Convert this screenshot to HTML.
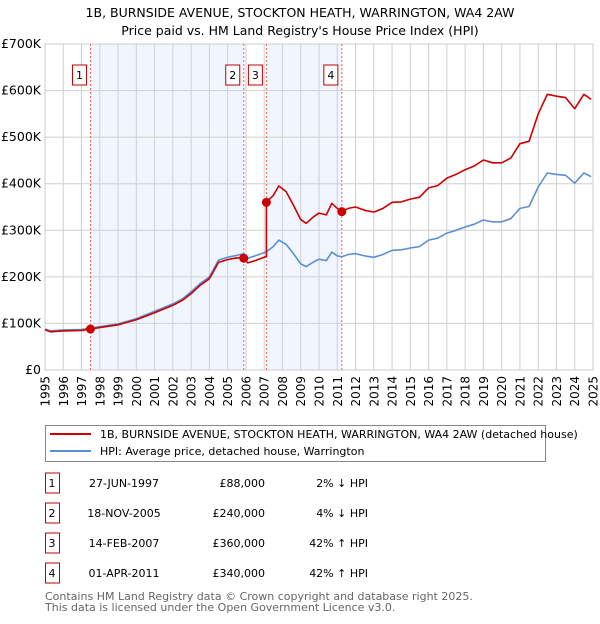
<!DOCTYPE html>
<html><head><meta charset="utf-8"><style>
body{margin:0;background:#fff;font-family:"DejaVu Sans","Liberation Sans",sans-serif;}
svg text{font-family:"DejaVu Sans","Liberation Sans",sans-serif;}
</style></head><body>
<svg id="chart" width="600" height="620" xmlns="http://www.w3.org/2000/svg">
<text x="300" y="17" text-anchor="middle" font-size="12.5" fill="#000">1B, BURNSIDE AVENUE, STOCKTON HEATH, WARRINGTON, WA4 2AW</text>
<text x="300" y="35" text-anchor="middle" font-size="12.5" fill="#000">Price paid vs. HM Land Registry's House Price Index (HPI)</text>
<g id="plot"></g>
<g>
<rect x="45.5" y="425.5" width="500" height="36" fill="#fff" stroke="#888"/>
<line x1="50" y1="434" x2="91" y2="434" stroke="#cc0000" stroke-width="2"/>
<text x="100" y="438" font-size="11">1B, BURNSIDE AVENUE, STOCKTON HEATH, WARRINGTON, WA4 2AW (detached house)</text>
<line x1="50" y1="451" x2="91" y2="451" stroke="#5b8fd4" stroke-width="2"/>
<text x="100" y="455" font-size="11">HPI: Average price, detached house, Warrington</text>
</g>
<g id="table"></g>
<text x="45" y="600" font-size="11" fill="#666">Contains HM Land Registry data © Crown copyright and database right 2025.</text>
<text x="45" y="611" font-size="11" fill="#666">This data is licensed under the Open Government Licence v3.0.</text>
</svg>
<script>
const dates=[1995.0,1995.3,1996,1997,1997.49,1998,1999,2000,2001,2002,2002.5,2003,2003.5,2004,2004.5,2005,2005.5,2005.88,2006.1,2006.5,2007.0,2007.12,2007.5,2007.8,2008.2,2008.6,2009.0,2009.3,2009.7,2010.0,2010.4,2010.7,2011.0,2011.25,2011.6,2012,2012.5,2013,2013.5,2014,2014.5,2015,2015.5,2016,2016.5,2017,2017.5,2018,2018.5,2019,2019.5,2020,2020.5,2021,2021.5,2022,2022.5,2023,2023.5,2024,2024.5,2024.9];
const hpiValues=[88,84,86,87,90,93,99,110,126,142,152,168,186,200,236,242,246,250,240,245,252,254,265,279,270,250,228,222,232,238,235,253,245,243,248,250,245,242,248,257,258,262,265,279,283,294,300,307,313,322,318,318,325,347,351,393,423,420,418,401,423,415];
const priceDates=[1995.0,1995.3,1996,1997,1997.49,1998,1999,2000,2001,2002,2002.5,2003,2003.5,2004,2004.5,2005,2005.5,2005.88,2006.1,2006.5,2007.0,2007.12,2007.12,2007.5,2007.8,2008.2,2008.6,2009.0,2009.3,2009.7,2010.0,2010.4,2010.7,2011.0,2011.25,2011.6,2012,2012.5,2013,2013.5,2014,2014.5,2015,2015.5,2016,2016.5,2017,2017.5,2018,2018.5,2019,2019.5,2020,2020.5,2021,2021.5,2022,2022.5,2023,2023.5,2024,2024.5,2024.9];
const priceValues=[86,82,84,85,88,91,97,108,123,139,149,164,182,196,231,237,241,240,230,235,242,244,360,375,395,383,354,323,315,329,337,333,358,347,340,347,350,343,339,347,360,361,367,371,391,396,412,420,430,438,451,445,445,455,486,491,550,592,588,585,561,592,581];
const saleDates=[1997.49,2005.88,2007.12,2011.25];
const salePrices=[88,240,360,340];
const saleLabels=["1","2","3","4"];
const saleDateText=["27-JUN-1997","18-NOV-2005","14-FEB-2007","01-APR-2011"];
const salePriceText=["£88,000","£240,000","£360,000","£340,000"];
const saleHpiText=["2% ↓ HPI","4% ↓ HPI","42% ↑ HPI","42% ↑ HPI"];
const yTicks=[0,100,200,300,400,500,600,700];
const yTickLabels=["£0","£100K","£200K","£300K","£400K","£500K","£600K","£700K"];
const xTicks=[1995,1996,1997,1998,1999,2000,2001,2002,2003,2004,2005,2006,2007,2008,2009,2010,2011,2012,2013,2014,2015,2016,2017,2018,2019,2020,2021,2022,2023,2024,2025];

const NS="http://www.w3.org/2000/svg";
const L=45,R=593,T=44,B=370;
const xs=d=>L+(d-1995)/(2025-1995)*(R-L);
const ys=v=>B-v/700*(B-T);
const plot=document.getElementById('plot');
function mk(tag,attrs,parent){const e=document.createElementNS(NS,tag);for(const k in attrs)e.setAttribute(k,attrs[k]);(parent||plot).appendChild(e);return e;}

for(let i=0;i<saleDates.length;i+=2){
  const x1=xs(saleDates[i]),x2=i+1<saleDates.length?xs(saleDates[i+1]):R;
  const r=mk('rect',{x:x1,y:T,width:x2-x1,height:B-T,fill:'#eef3fd',opacity:0.8});
  
  
}
xTicks.forEach((t,i)=>{
  const g=mk('line',{x1:xs(t),x2:xs(t),y1:T,y2:B,stroke:'#d0d0d0','stroke-width':1});
  
  
  const tx=xs(t)+4.5,ty=B+6;
  const lb=mk('text',{x:tx,y:ty,'text-anchor':'end','font-size':12,fill:'#000',transform:`rotate(-90 ${tx} ${ty})`});
  lb.textContent=t;
  
  
});
yTicks.forEach((t,i)=>{
  const g=mk('line',{x1:L,x2:R,y1:ys(t),y2:ys(t),stroke:'#d0d0d0','stroke-width':1});
  
  
  const lb=mk('text',{x:L-4,y:ys(t)+4,'text-anchor':'end','font-size':12.5,fill:'#000'});
  lb.textContent=yTickLabels[i];
  
  
});
mk('rect',{x:L,y:T,width:R-L,height:B-T,fill:'none',stroke:'#ccc'});
saleDates.forEach((d,i)=>{
  const l=mk('line',{x1:xs(d),x2:xs(d),y1:T,y2:B,stroke:'#f06060','stroke-width':1,'stroke-dasharray':'2,2'});
  
  
  const bx=xs(d)-4-14;
  const r=mk('rect',{x:bx,y:65,width:14,height:20,fill:'#fff',stroke:'#c00000'});
  
  
  const t=mk('text',{x:bx+7,y:79,'text-anchor':'middle','font-size':11});
  t.textContent=saleLabels[i];
  
  
});
function path(dArr,vArr,color,name){
  let s='';dArr.forEach((d,i)=>{s+=(i?'L':'M')+xs(d).toFixed(1)+','+ys(vArr[i]).toFixed(1);});
  const p=mk('path',{d:s,fill:'none',stroke:color,'stroke-width':1.6,'stroke-linejoin':'round'});
  
  
}
path(dates,hpiValues,'#5b8fd4','hpi-line');
path(priceDates,priceValues,'#cc0000','price-paid-line');
saleDates.forEach((d,i)=>{
  const c=mk('circle',{cx:xs(d),cy:ys(salePrices[i]),r:4.5,fill:'#cc0000'});
  
  
});
const tb=document.getElementById('table');
saleLabels.forEach((s,i)=>{
  const cy=483+i*30;
  const r=mk('rect',{x:45.5,y:cy-10,width:14,height:20,fill:'#fff',stroke:'#c00000'},tb);
  
  
  const vals=[[52,s,'middle'],[124,saleDateText[i],'middle'],[265,salePriceText[i],'end'],[368,saleHpiText[i],'end']];
  vals.forEach(v=>{
    const t=mk('text',{x:v[0],y:cy+4,'text-anchor':v[2],'font-size':11},tb);
    t.textContent=v[1];
    
    
  });
});
</script>
</body></html>
